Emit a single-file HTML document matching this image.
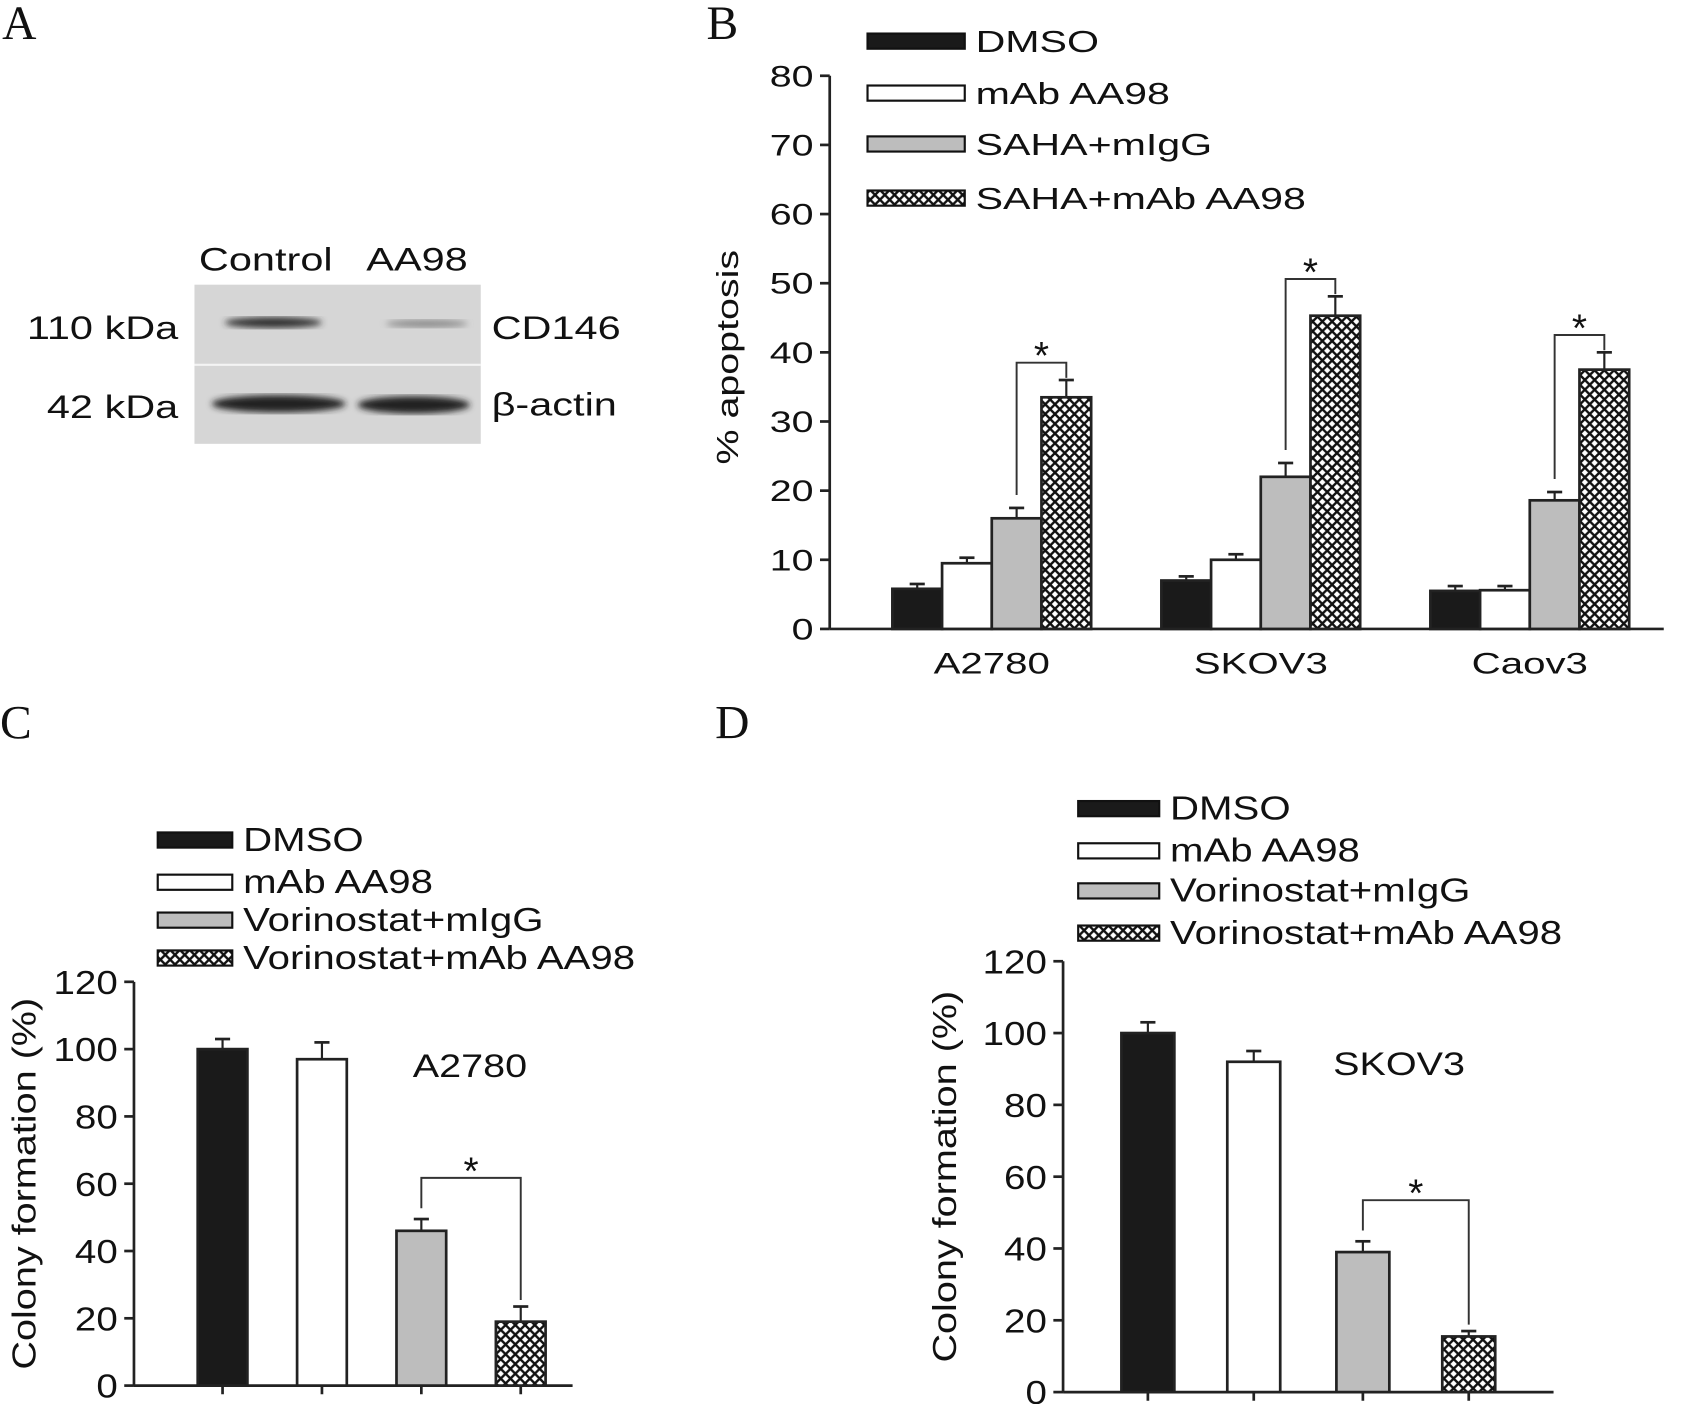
<!DOCTYPE html>
<html><head><meta charset="utf-8"><style>
html,body{margin:0;padding:0;background:#fff}
svg{display:block}
text{font-family:"Liberation Sans",sans-serif;fill:#111}
.ser{font-family:"Liberation Serif",serif}
</style></head><body>
<svg id="fig" width="1694" height="1404" viewBox="0 0 1568 1297" preserveAspectRatio="none" xmlns="http://www.w3.org/2000/svg">
<defs>
<pattern id="hatch" width="9" height="9" patternUnits="userSpaceOnUse">
<rect width="9" height="9" fill="#fff"/>
<path d="M0,0L9,9M9,0L0,9M-1,8L1,10M8,-1L10,1M8,10L10,8M-1,1L1,-1" stroke="#111" stroke-width="2.2"/>
</pattern>
<filter id="blur"><feGaussianBlur stdDeviation="3"/></filter>
</defs>
<text class="ser" x="2" y="36" font-size="44">A</text>
<text class="ser" x="654" y="36" font-size="44">B</text>
<text class="ser" x="0" y="682" font-size="44">C</text>
<text class="ser" x="662" y="682" font-size="44">D</text>

<g>
<rect x="180" y="263" width="265" height="147" fill="#d6d6d6"/>
<line x1="180" y1="337" x2="445" y2="337" stroke="#f4f4f4" stroke-width="2"/>
<ellipse cx="253" cy="298" rx="45" ry="5" fill="#333" filter="url(#blur)"/>
<ellipse cx="395" cy="299" rx="38" ry="3.5" fill="#8a8a8a" filter="url(#blur)"/>
<ellipse cx="258" cy="373" rx="62" ry="8" fill="#222" filter="url(#blur)"/>
<ellipse cx="383" cy="374" rx="52" ry="8" fill="#222" filter="url(#blur)"/>
<text transform="translate(246,250) scale(1.28,1)" font-size="30" text-anchor="middle">Control</text>
<text transform="translate(386,250) scale(1.28,1)" font-size="30" text-anchor="middle">AA98</text>
<text transform="translate(165,313) scale(1.28,1)" font-size="30" text-anchor="end">110 kDa</text>
<text transform="translate(165,386) scale(1.28,1)" font-size="30" text-anchor="end">42 kDa</text>
<text transform="translate(455,313) scale(1.28,1)" font-size="30">CD146</text>
<text transform="translate(455,384) scale(1.28,1)" font-size="30">β-actin</text>
</g>
<g id="chartB"></g>
<g id="chartC"></g>
<g id="chartD"></g>
</svg>
<script>
const bCategories=["A2780","SKOV3","Caov3"];
const bDMSO=[5.8,7,5.5];
const bMab=[9.5,10,5.6];
const bSaha=[16,22,18.6];
const bCombo=[33.5,45.3,37.5];
const bDMSOErr=[0.7,0.6,0.7];
const bMabErr=[0.8,0.8,0.6];
const bSahaErr=[1.5,2,1.2];
const bComboErr=[2.5,2.8,2.5];
const bTicks=[0,10,20,30,40,50,60,70,80];
const bLegend=["DMSO","mAb AA98","SAHA+mIgG","SAHA+mAb AA98"];
const cValues=[100,97,46,19];
const cErr=[3,5,3.5,4.5];
const dValues=[100,92,39,15.5];
const dErr=[3,3,3,1.5];
const colonyTicks=[0,20,40,60,80,100,120];
const colonyLegend=["DMSO","mAb AA98","Vorinostat+mIgG","Vorinostat+mAb AA98"];
const fills=["#1a1a1a","#fff","#bdbdbd","url(#hatch)"];
const NS="http://www.w3.org/2000/svg";
function mk(p,tag,at,txt){const e=document.createElementNS(NS,tag);for(const k in at)e.setAttribute(k,at[k]);if(txt!==undefined)e.textContent=txt;p.appendChild(e);return e;}
function T(g,x,y,s,fs,sx,anchor,rot){
 return mk(g,'text',{transform:`translate(${x},${y})${rot?' rotate('+rot+')':''} scale(${sx},1)`,'font-size':fs,'text-anchor':anchor||'start'},s);}
function legend(g,labels,x,ys,w,fs,sx){labels.forEach((l,i)=>{
 const r=mk(g,'rect',{x:x,y:ys[i]-7,width:w,height:14,fill:fills[i],stroke:'#111','stroke-width':2});
 
 
 const t=T(g,x+w+10,ys[i]+10,l,fs,sx);
 
 });}
function axisY(g,ax,y0,y1,max,ticks,xEnd,fs,sx){
 const sy=v=>y0-(y0-y1)*v/max;
 mk(g,'line',{x1:ax,y1:y1,x2:ax,y2:y0,stroke:'#222','stroke-width':2.5});
 mk(g,'line',{x1:ax,y1:y0,x2:xEnd,y2:y0,stroke:'#222','stroke-width':2.5});
 ticks.forEach(t=>{mk(g,'line',{x1:ax-9,y1:sy(t),x2:ax,y2:sy(t),stroke:'#222','stroke-width':2.5});
  const tl=T(g,ax-15,sy(t)+fs*0.36,String(t),fs,sx,'end');
  
  });
 return sy;}
function bar(g,x,w,v,e,fill,sy,base){
 const top=sy(v+e);
 mk(g,'line',{x1:x+w/2,y1:sy(v),x2:x+w/2,y2:top,stroke:'#222','stroke-width':2});
 mk(g,'line',{x1:x+w/2-7,y1:top,x2:x+w/2+7,y2:top,stroke:'#222','stroke-width':2.5});
 const r=mk(g,'rect',{x:x,y:sy(v),width:w,height:base-sy(v),fill:fill,stroke:'#222','stroke-width':2.5});
 
 }
function bracket(g,x1,yA,x2,yB,yTop){
 mk(g,'path',{d:`M${x1},${yA}V${yTop}H${x2}V${yB}`,fill:'none',stroke:'#333','stroke-width':1.8});
 const s=T(g,(x1+x2)/2,yTop+6,'*',36,1,'middle');
 
 }
// Panel B
(function(){
 const g=document.getElementById('chartB');
 const base=581;
 const sy=axisY(g,768,base,70,80,bTicks,1540,27,1.35);
 const series=[bDMSO,bMab,bSaha,bCombo],errs=[bDMSOErr,bMabErr,bSahaErr,bComboErr];
 const w=46;
 bCategories.forEach((c,i)=>{
  const cx=918+i*249;
  series.forEach((s,j)=>bar(g,cx-2*w+j*w,w,s[i],errs[j][i],fills[j],sy,base));
  const yTop=sy(bCombo[i]+bComboErr[i])-16;
  bracket(g,cx+w/2,sy(bSaha[i]+bSahaErr[i])-12,cx+w*1.5,sy(bCombo[i]+bComboErr[i])-2,yTop);
  const t=T(g,cx,622,c,27,1.38,'middle');
  
  
 });
 const yt=T(g,683,330,'% apoptosis',28,1.3,'middle',-90);
 
 
 legend(g,bLegend,803,[38,86,133,183],90,28,1.36);
})();
function colony(id,ax,y0,y1,xEnd,xs,w,vals,errs,label,lx,ly,titleX,legX,legYs,legW){
 const g=document.getElementById(id);
 const sy=axisY(g,ax,y0,y1,120,colonyTicks,xEnd,31,1.15);
 vals.forEach((v,i)=>{bar(g,xs[i],w,v,errs[i],fills[i],sy,y0);
  mk(g,'line',{x1:xs[i]+w/2,y1:y0,x2:xs[i]+w/2,y2:y0+8,stroke:'#222','stroke-width':2.5});});
 bracket(g,xs[2]+w/2,sy(vals[2]+errs[2])-10,xs[3]+w/2,sy(vals[3]+errs[3])-6,sy(vals[2]+errs[2])-38);
 const t=T(g,lx,ly,label,30,1.22,'middle');
 
 
 const yt=T(g,titleX,(y0+y1)/2,'Colony formation (%)',31,1.18,'middle',-90);
 
 
 legend(g,colonyLegend,legX,legYs,legW,31,1.2);
}
colony('chartC',124,1280,907,530,[183,275,367,459],46,cValues,cErr,'A2780',435,995,33,146,[776,815,850,885],69);
colony('chartD',984,1286,888,1438,[1038,1136,1237,1335],49,dValues,dErr,'SKOV3',1295,993,885,998,[747,786,823,862],75);
</script>
</body></html>
